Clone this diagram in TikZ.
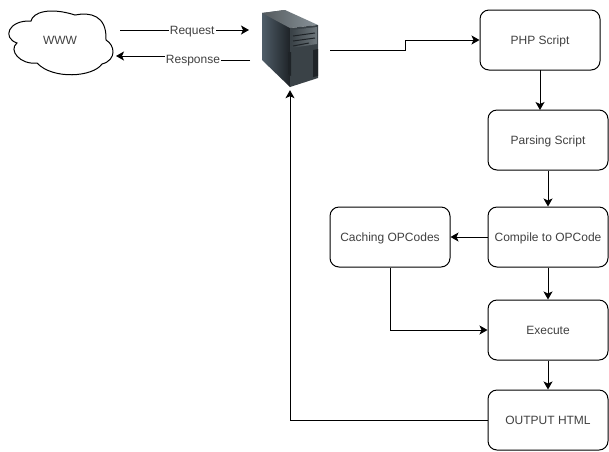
\documentclass[tikz,border=0pt]{standalone}
\usepackage{fontspec}
\setmainfont{Liberation Sans}
\usetikzlibrary{arrows.meta}
\definecolor{srvleft}{HTML}{4F5D68}
\definecolor{srvdark}{HTML}{1E2327}
\definecolor{srvfront}{HTML}{3A4247}
\definecolor{srvtop}{HTML}{8A949A}
\definecolor{srvbay}{HTML}{70797E}
\begin{document}
\begin{tikzpicture}[x=1pt,y=-1pt,every node/.style={font=\fontsize{12}{14}\selectfont,text=black!75,text height=9pt,text depth=0pt},
  stepbox/.style={draw=black,line width=1pt,rounded corners=9pt,minimum width=120pt,minimum height=60pt,inner sep=0pt},
  flow/.style={draw=black,line width=1pt,-{Stealth[length=8pt,width=9pt,inset=2pt]}},
  flowlabel/.style={fill=white,inner sep=1pt}]
\useasboundingbox (0,0) rectangle (609,451);
% cloud
\node[inner sep=0pt] (www) at (60,40) {WWW};
\draw[line width=1pt] (17,43) .. controls (2,38) and (8,20) .. (31,21)
  .. controls (33,12) and (50,7) .. (75,15) .. controls (90,12) and (107,15) .. (106,40)
  .. controls (115,45) and (117,60) .. (102,64) .. controls (93,77) and (53,80) .. (37,63)
  .. controls (20,65) and (8,50) .. (17,43) -- cycle;
% server
\node[minimum width=57pt,minimum height=80pt,inner sep=0pt] (server) at (290,50) {};
\shade[left color=srvleft,right color=srvdark] (262,13)--(285,10)--(290,28)--(290,87)--(262,60)--cycle;
\shade[left color=srvtop!60!black,right color=srvtop] (262,13)--(285,10)--(318,25)--(290,28)--cycle;
\fill[srvfront] (290,28)--(318,25)--(318,78)--(290,87)--cycle;
\shade[left color=srvfront,right color=srvbay] (291,30)--(317,27)--(317,44)--(291,48)--cycle;
\draw[srvdark,line width=1pt] (293,36)--(315,33) (293,41)--(315,38) (293,46)--(309,43);
\fill[srvdark] (288,52)--(291,52)--(291,76)--(288,74)--cycle;
\fill[srvdark] (313,50)--(318,49)--(318,76)--(313,77)--cycle;
% boxes
\node[stepbox] (php) at (540,40) {PHP Script};
\node[stepbox] (parsing) at (548,140) {Parsing Script};
\node[stepbox] (compile) at (548,237) {Compile to OPCode};
\node[stepbox] (caching) at (390,237) {Caching OPCodes};
\node[stepbox] (execute) at (548,330) {Execute};
\node[stepbox] (output) at (548,420) {OUTPUT HTML};
% free ends of the connectors
\coordinate (reqa) at (120,30); \coordinate (reqb) at (249,30);
\coordinate (resa) at (250,60.5); \coordinate (resb) at (183,60.5); \coordinate (resc) at (183,56); \coordinate (resd) at (116,56);
\coordinate (srva) at (330,50); \coordinate (srvb) at (405.5,50); \coordinate (srvc) at (405.5,40);
\coordinate (phpout) at (540,70); \coordinate (parsin) at (540,110);
% connectors
\draw[flow] (reqa)--(reqb) node[flowlabel,pos=0.56] (request) {Request};
\draw[flow] (resa)--(resb)--(resc)--(resd);
\node[flowlabel] (response) at (193,58.5) {Response};
\draw[flow] (srva)--(srvb)--(srvc)--(php.west);
\draw[flow] (phpout)--(parsin);
\draw[flow] (parsing.south)--(compile.north);
\draw[flow] (compile.west)--(caching.east);
\draw[flow] (compile.south)--(execute.north);
\draw[flow] (caching.south)|-(execute.west);
\draw[flow] (execute.south)--(output.north);
\draw[flow] (output.west)-|(server.south);
\end{tikzpicture}
\end{document}
